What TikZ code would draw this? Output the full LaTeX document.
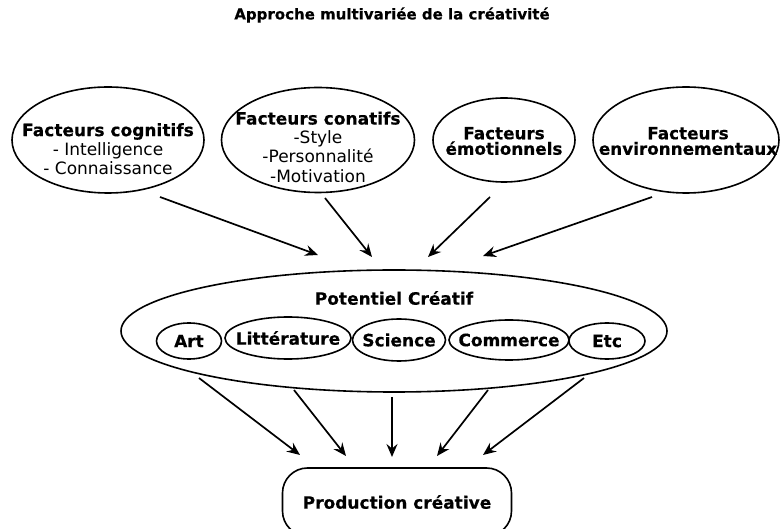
\documentclass[tikz,border=0pt]{standalone}
\usepackage{fontspec}
\setmainfont{DejaVu Sans}[BoldFeatures={FakeBold=0.4}]
\usetikzlibrary{shapes.geometric,arrows.meta}
\begin{document}
\begin{tikzpicture}[x=1pt,y=-1pt,
  ell/.style={draw, ellipse, line width=1.6pt, inner sep=0pt},
  sub/.style={ell, inner sep=-20pt, font=\bfseries\fontsize{17}{19}\selectfont},
  lbl/.style={align=center, font=\fontsize{17}{19.2}\selectfont, inner sep=0pt},
  tight/.style={align=center, font=\bfseries\fontsize{16.8}{15.5}\selectfont, inner sep=0pt},
  bl/.style={font=\bfseries\fontsize{17}{19}\selectfont},
  arr/.style={line width=1.7pt, -{Stealth[length=13pt,width=11pt,inset=4.5pt]}}]
\useasboundingbox (0,0) rectangle (780,529);
\node[font=\bfseries\fontsize{15}{18}\selectfont] (title) at (392,15) {Approche multivariée de la créativité};

\node[ell, minimum width=192pt, minimum height=106pt] (cog) at (108,140) {};
\node[lbl] (cogt) at (108,149) {\textbf{Facteurs cognitifs}\\- Intelligence\\- Connaissance};
\node[ell, minimum width=193pt, minimum height=105pt] (con) at (318,140) {};
\node[lbl] (cont) at (318,147) {\textbf{Facteurs conatifs}\\-Style\\-Personnalité\\-Motivation};
\node[ell, minimum width=142pt, minimum height=84pt] (emo) at (504,140) {};
\node[tight] (emot) at (504,141) {Facteurs\\émotionnels};
\node[ell, minimum width=186pt, minimum height=106pt] (env) at (686,140) {};
\node[tight] (envt) at (688,141) {Facteurs\\environnementaux};

\node[ell, minimum width=546pt, minimum height=122pt] (pot) at (394,331) {};
\node[bl] (pott) at (394,298) {Potentiel Créatif};
\node[sub, minimum width=65pt, minimum height=36pt] (art) at (189,341) {Art};
\node[sub, minimum width=126pt, minimum height=42pt] (lit) at (288,338) {Littérature};
\node[sub, minimum width=93pt, minimum height=42pt] (sci) at (399,340) {Science};
\node[sub, minimum width=120pt, minimum height=40pt] (com) at (509,340) {Commerce};
\node[sub, minimum width=76pt, minimum height=36pt] (etc) at (607,341) {Etc};

\node[draw, bl, rounded corners=25pt, line width=1.6pt, minimum width=229pt, minimum height=68pt] (prod) at (397,502) {Production créative};

\coordinate (s1) at (160,197); \coordinate (e1) at (318,255);
\coordinate (s2) at (325,198); \coordinate (e2) at (372,257);
\coordinate (s3) at (490,197); \coordinate (e3) at (428,257);
\coordinate (s4) at (652,197); \coordinate (e4) at (483,256);
\draw[arr] (s1) -- (e1);
\draw[arr] (s2) -- (e2);
\draw[arr] (s3) -- (e3);
\draw[arr] (s4) -- (e4);

\coordinate (b1) at (199,378); \coordinate (f1) at (300,455);
\coordinate (b2) at (294,390); \coordinate (f2) at (346,456);
\coordinate (b3) at (392,397); \coordinate (f3) at (392,457);
\coordinate (b4) at (488,390); \coordinate (f4) at (437,456);
\coordinate (b5) at (584,378); \coordinate (f5) at (483,455);
\draw[arr] (b1) -- (f1);
\draw[arr] (b2) -- (f2);
\draw[arr] (b3) -- (f3);
\draw[arr] (b4) -- (f4);
\draw[arr] (b5) -- (f5);
\end{tikzpicture}
\end{document}
